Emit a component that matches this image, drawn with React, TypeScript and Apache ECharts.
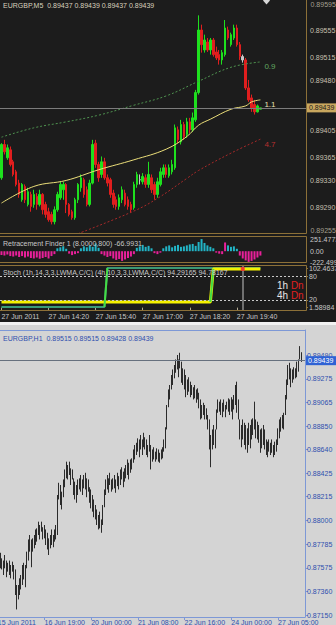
import React, { useEffect, useRef } from "react";
import * as echarts from "echarts";

// ---------------- M5 chart (top, dark) ----------------
const m5TickLabels = ["27 Jun 2011", "27 Jun 14:20", "27 Jun 15:40", "27 Jun 17:00", "27 Jun 18:20", "27 Jun 19:40"];
const m5Open = [0.89334,0.89384,0.89364,0.89376,0.89358,0.89343,0.89326,0.89301,0.89321,0.89294,
  0.89309,0.89294,0.89306,0.89294,0.89309,0.89294,0.89283,0.89279,0.89268,0.89286,
  0.89304,0.89316,0.89324,0.89294,0.89283,0.89274,0.89301,0.89319,0.89331,0.89316,
  0.89294,0.89326,0.89386,0.89354,0.89339,0.89358,0.89334,0.89331,0.89311,0.89301,
  0.89291,0.89301,0.89311,0.89301,0.89294,0.89289,0.89324,0.89331,0.89328,0.89334,
  0.89324,0.89334,0.89324,0.89309,0.89324,0.89339,0.89349,0.89337,0.89343,0.89349,
  0.89406,0.89388,0.89414,0.89399,0.89418,0.89406,0.89421,0.89462,0.89556,0.89526,
  0.89538,0.89526,0.89541,0.89523,0.89519,0.89511,0.89519,0.89556,0.89534,0.89544,
  0.89559,0.89534,0.89516,0.89511,0.89469,0.89454,0.89444,0.89433,0.89437];
const m5Close = [0.89384,0.89373,0.89379,0.89354,0.89339,0.89324,0.89309,0.89324,0.89301,0.89313,
  0.89291,0.89309,0.89294,0.89309,0.89286,0.89279,0.89271,0.89268,0.89286,0.89309,
  0.89324,0.89324,0.89294,0.89279,0.89274,0.89301,0.89324,0.89334,0.89309,0.89294,
  0.89326,0.89384,0.89354,0.89334,0.89358,0.89334,0.89326,0.89309,0.89294,0.89291,
  0.89304,0.89316,0.89294,0.89291,0.89286,0.89324,0.89339,0.89331,0.89336,0.89324,
  0.89339,0.89316,0.89309,0.89328,0.89343,0.89349,0.89339,0.89349,0.89354,0.89409,
  0.89391,0.89414,0.89396,0.89418,0.89406,0.89424,0.89462,0.89556,0.89534,0.89541,
  0.89526,0.89541,0.89519,0.89514,0.89511,0.89522,0.89559,0.89544,0.89549,0.89559,
  0.89534,0.89516,0.89511,0.89469,0.89451,0.89439,0.89433,0.89442,0.89439];
const m5Low = [0.89331,0.89369,0.89361,0.89351,0.89336,0.89321,0.89304,0.89298,0.89296,0.89291,
  0.89283,0.89289,0.89286,0.89291,0.89279,0.89274,0.89268,0.89264,0.89264,0.89283,
  0.89301,0.89301,0.89281,0.89276,0.89271,0.89271,0.89296,0.89313,0.89304,0.89291,
  0.89291,0.89324,0.89349,0.89328,0.89334,0.89331,0.89321,0.89304,0.89289,0.89286,
  0.89286,0.89296,0.89291,0.89286,0.89281,0.89286,0.89319,0.89324,0.89324,0.89319,
  0.89319,0.89311,0.89301,0.89304,0.89321,0.89334,0.89334,0.89334,0.89339,0.89346,
  0.89386,0.89384,0.89391,0.89394,0.89401,0.89403,0.89418,0.89459,0.89522,0.89522,
  0.89523,0.89519,0.89516,0.89511,0.89504,0.89504,0.89516,0.89541,0.89531,0.89541,
  0.89531,0.89511,0.89507,0.89466,0.89448,0.89433,0.89429,0.89432,0.89437];
const m5High = [0.89386,0.89391,0.89384,0.89381,0.89361,0.89346,0.89331,0.89326,0.89324,0.89319,
  0.89313,0.89316,0.89311,0.89316,0.89311,0.89298,0.89289,0.89283,0.89291,0.89313,
  0.89328,0.89328,0.89326,0.89296,0.89286,0.89304,0.89326,0.89339,0.89334,0.89321,
  0.89331,0.89391,0.89391,0.89358,0.89366,0.89364,0.89339,0.89334,0.89316,0.89306,
  0.89309,0.89321,0.89316,0.89306,0.89298,0.89328,0.89343,0.89339,0.89341,0.89339,
  0.89358,0.89339,0.89328,0.89334,0.89349,0.89354,0.89354,0.89354,0.89361,0.89414,
  0.89411,0.89421,0.89418,0.89424,0.89424,0.89432,0.89466,0.89578,0.89564,0.89549,
  0.89544,0.89544,0.89544,0.89531,0.89526,0.89526,0.89571,0.89561,0.89552,0.89564,
  0.89564,0.89538,0.89519,0.89514,0.89481,0.89459,0.89451,0.89444,0.89439];
const m5GrayCandles = [47, 82];
const maYellow = [[0,0.89296],[11,0.89321],[22,0.8933],[33,0.89346],[45,0.89361],[56,0.89377],[63,0.89396],[67,0.89413],[71,0.89422],[78,0.89437],[83,0.89442],[85,0.89448],[88,0.89451]];
const maGreen = [[0,0.89395],[11,0.89409],[22,0.89418],[33,0.89428],[45,0.89443],[56,0.89457],[67,0.89479],[78,0.895],[88,0.89508]];
const maRed = [[26,0.8925],[45,0.89284],[53,0.89303],[63,0.89333],[67,0.89345],[78,0.89371],[88,0.89392]];
const maNames = ["1.1", "0.9", "4.7"];
const m5Last = 0.89439;
const m5AxisLabels = [0.89595, 0.89555, 0.89515, 0.8948, 0.89405, 0.89365, 0.8933, 0.8929, 0.89255];
const m5EdgeLabels = [0.89595, 0.89255];

const retrValues = [-80,-90,-70,-100,-110,-90,-120,-100,-130,-110,-140,-150,-130,-155,-140,-120,-150,-100,-60,
  60,80,100,50,
  -50,-80,-60,-40,
  60,100,80,120,90,160,70,
  -60,-90,-120,-100,-150,-180,-160,-200,-170,-140,-110,-60,
  70,100,130,90,110,60,
  -40,-60,-30,
  60,100,120,80,110,130,90,100,120,140,150,110,190,250,170,120,90,60,
  -30,-50,-60,
  180,
  120,90,100,50,
  -90,-150,-190,-220,-200,-170,-130,-90];
const retrFallingUp = [76];
const retrMin = -222.499;
const retrMax = 251.4773;

const stoch1h = [1.6,1.6,1.6,1.6,1.6,1.6,1.6,1.6,1.6,1.6,1.6,1.6,1.6,1.6,1.6,1.6,1.6,1.6,
  1.6,1.6,1.6,1.6,1.6,1.6,1.6,1.6,1.6,1.6,1.6,1.6,1.6,1.6,1.6,1.6,1.6,1.6,
  102.4,102.4,102.4,102.4,102.4,102.4,102.4,102.4,102.4,102.4,102.4,102.4,102.4,102.4,
  102.4,102.4,102.4,102.4,102.4,102.4,102.4,102.4,102.4,102.4,102.4,102.4,102.4,102.4,
  102.4,102.4,102.4,102.4,102.4,102.4,102.4,102.4,102.4,102.4,102.4,102.4,102.4,102.4,
  102.4,102.4,102.4,102.4,102.4,102.4,102.4,102.4,102.4,102.4,102.4];
const stoch4h = [14.5,14.5,14.5,14.5,14.5,14.5,14.5,14.5,14.5,14.5,14.5,14.5,14.5,14.5,14.5,14.5,14.5,14.5,
  14.5,14.5,14.5,14.5,14.5,14.5,14.5,14.5,14.5,14.5,14.5,14.5,14.5,14.5,14.5,14.5,14.5,14.5,
  14.5,14.5,14.5,14.5,14.5,14.5,14.5,14.5,14.5,14.5,14.5,14.5,14.5,14.5,14.5,14.5,14.5,14.5,
  14.5,14.5,14.5,14.5,14.5,14.5,14.5,14.5,14.5,14.5,14.5,14.5,14.5,14.5,14.5,14.5,14.5,14.5,
  100,100,100,100,100,100,100,100,100,100,100,100,100,100,100,100,100];
const stochAxisLabels = [102.4637, 80, 20, 1.58984];
const stochLevels = [80, 20];
const stochCursor = 82;

// ---------------- H1 chart (bottom, light) ----------------
const h1TickLabels = ["15 Jun 2011", "16 Jun 19:00", "20 Jun 00:00", "21 Jun 08:00", "22 Jun 16:00", "24 Jun 00:00", "27 Jun 05:00"];
const h1High = [0.8771,0.8766,0.8764,0.8769,0.8764,0.8762,0.8764,0.876,0.8763,0.876,
  0.8756,0.8742,0.8742,0.8748,0.8751,0.876,0.8762,0.876,0.8772,0.8783,
  0.8787,0.8783,0.8784,0.8787,0.8792,0.8793,0.8799,0.8796,0.8799,0.8794,
  0.8796,0.8792,0.8789,0.8784,0.8787,0.8792,0.8787,0.8792,0.8796,0.8823,
  0.8834,0.8832,0.8826,0.8837,0.8846,0.8853,0.885,0.8853,0.8847,0.8846,
  0.8838,0.8835,0.8832,0.8837,0.8838,0.8841,0.8837,0.8841,0.8843,0.8838,
  0.8837,0.883,0.8828,0.8823,0.8819,0.8814,0.881,0.8805,0.8808,0.8801,
  0.8814,0.8828,0.8837,0.8841,0.8838,0.8843,0.8837,0.8838,0.8841,0.8837,
  0.8843,0.884,0.8846,0.8848,0.8844,0.8847,0.885,0.8855,0.8852,0.8855,
  0.8856,0.8864,0.8868,0.887,0.8874,0.8873,0.8877,0.8873,0.8879,0.8875,
  0.8873,0.8868,0.8877,0.8868,0.8864,0.8866,0.8862,0.8865,0.8864,0.8861,
  0.8864,0.8866,0.8873,0.8884,0.8904,0.8918,0.8922,0.8931,0.8936,0.894,
  0.8945,0.8949,0.8945,0.8951,0.8943,0.8937,0.8936,0.8931,0.8927,0.8929,
  0.8925,0.8922,0.892,0.8922,0.8918,0.8919,0.8915,0.8909,0.8904,0.8906,
  0.8904,0.8901,0.8895,0.8891,0.8877,0.8882,0.8886,0.8882,0.89,0.8909,
  0.8907,0.8909,0.8906,0.8909,0.8904,0.8907,0.891,0.8909,0.8911,0.8909,
  0.8913,0.8922,0.8925,0.8909,0.8891,0.8886,0.8891,0.8888,0.8886,0.8883,
  0.8888,0.8886,0.8891,0.8892,0.8907,0.8891,0.8889,0.8886,0.8882,0.8883,
  0.8886,0.8882,0.8873,0.8871,0.8873,0.887,0.8873,0.8868,0.8871,0.8873,
  0.8883,0.8891,0.8893,0.8895,0.8897,0.8913,0.8927,0.894,0.8942,0.8937,
  0.8936,0.8938,0.8937,0.8943,0.8945,0.8957,0.89515];
const h1Low = [0.8757,0.8756,0.8751,0.8757,0.8749,0.8754,0.8751,0.8748,0.8754,0.8747,
  0.8733,0.872,0.8729,0.8733,0.8738,0.8742,0.8747,0.874,0.8757,0.8764,
  0.8772,0.8758,0.8772,0.8775,0.8778,0.8781,0.8787,0.8783,0.879,0.8783,
  0.8784,0.8778,0.8774,0.8769,0.8775,0.8778,0.8776,0.8781,0.8783,0.8787,
  0.8819,0.8814,0.881,0.8821,0.883,0.8838,0.8837,0.8841,0.8832,0.8837,
  0.8823,0.8819,0.8816,0.8823,0.8828,0.8826,0.8823,0.8829,0.8828,0.8821,
  0.8826,0.8816,0.8811,0.8808,0.8803,0.8801,0.8796,0.8792,0.8793,0.8789,
  0.8796,0.8812,0.8823,0.8828,0.8825,0.8832,0.8826,0.8828,0.8829,0.8825,
  0.8831,0.8828,0.8832,0.8837,0.883,0.8835,0.8838,0.8841,0.8837,0.8843,
  0.8846,0.8852,0.8855,0.8859,0.8862,0.8857,0.8864,0.8859,0.8866,0.8864,
  0.8859,0.8857,0.8862,0.8846,0.8853,0.8855,0.8853,0.8855,0.8853,0.8852,
  0.8855,0.8856,0.8862,0.8865,0.8882,0.8902,0.8909,0.8918,0.8922,0.8928,
  0.8933,0.8936,0.8929,0.8937,0.8924,0.8922,0.8918,0.8911,0.8913,0.8916,
  0.8911,0.8913,0.8909,0.891,0.8906,0.8909,0.8901,0.8891,0.8892,0.8895,
  0.8891,0.8891,0.8882,0.8864,0.8848,0.8864,0.8868,0.8865,0.8882,0.8897,
  0.8898,0.8895,0.8893,0.8898,0.8893,0.89,0.8898,0.8895,0.8898,0.8891,
  0.89,0.8904,0.8897,0.8891,0.8873,0.8866,0.8873,0.8868,0.8864,0.8861,
  0.8868,0.8865,0.8873,0.8877,0.8882,0.8874,0.8873,0.887,0.8861,0.8865,
  0.8868,0.8864,0.8859,0.8857,0.8862,0.8859,0.8861,0.8857,0.8859,0.8862,
  0.8868,0.8874,0.888,0.8883,0.8882,0.8895,0.8909,0.8922,0.8927,0.892,
  0.8924,0.8927,0.8928,0.8929,0.8934,0.8945,0.89428];
const h1Last = 0.89439;
const h1AxisLabels = [0.8949, 0.89275, 0.89065, 0.8885, 0.8864, 0.88425, 0.88215, 0.88, 0.87785, 0.87575, 0.8736, 0.8715];

// ---------------- styling ----------------
const FONT = "Liberation Sans";
const GOLD = "#8c7038";
const DARK = "#1c1c1c";
const BLUE = "#7d98d6";
const BLUE_TEXT = "#2f4fae";
const GREEN = "#1ee01e";
const RED = "#e01e1e";
const CYAN = "#22b4c6";
const MAGENTA = "#e8209a";
const PRICE_TEXT = "#c8c0b0";

const M5_SLOTS = 104;
const H1_LEAD = 2;
const H1_SLOTS = 211;

const m5Cats = Array.from({ length: M5_SLOTS }, (_, i) => (i % 16 === 0 && m5TickLabels[i / 16]) || "");
const h1Cats = Array.from({ length: H1_SLOTS }, (_, i) => (i % 32 === 0 && h1TickLabels[i / 32]) || "");

const m5Data = m5Open.map((o, i) => {
  const v = [o, m5Close[i], m5Low[i], m5High[i]];
  if (m5GrayCandles.includes(i)) {
    return { value: v, itemStyle: { color: "#c8c8c8", color0: "#c8c8c8", borderColor: "#c8c8c8", borderColor0: "#c8c8c8" } };
  }
  return v;
});
const h1Data: any[] = [];
for (let i = 0; i < H1_LEAD; i++) h1Data.push("-");
h1High.forEach((h, i) => h1Data.push([h1Low[i], h, h1Low[i], h]));

const labelFont = { fontFamily: FONT, fontSize: 7, lineHeight: 7 };
const pickLabel = (list: number[], digits: number) => (v: number) => {
  const hit = list.find((x) => Math.abs(x - v) < 1e-7);
  return hit === undefined ? "" : hit.toFixed(digits);
};

const priceLine = (value: number, xi: number, yi: number, lineColor: string, bg: string, fg: string) => ({
  type: "line", xAxisIndex: xi, yAxisIndex: yi, data: [], z: 8,
  markLine: {
    silent: true, symbol: ["none", "none"], animation: false, precision: 5,
    lineStyle: { color: lineColor, width: 1, type: "solid" },
    label: { show: true, position: "end", distance: 1, formatter: value.toFixed(5), fontFamily: FONT, fontSize: 7, color: fg, backgroundColor: bg, padding: [1, 3, 1, 2] },
    data: [{ yAxis: value }],
  },
});

// main price panel: 0.896 sits at y=0.7, 0.8925 at y=233.7; the axis is extended two label steps each side
const M5_PX = 233 / (0.896 - 0.8925);
const M5_MIN = 0.8924;
const M5_MAX = 0.8961;
const M5_TOP = 0.7 - (M5_MAX - 0.896) * M5_PX;

const option: any = {
  animation: false,
  backgroundColor: "transparent",
  textStyle: { fontFamily: FONT },
  grid: [
    { left: 0, top: M5_TOP, width: 306, height: (M5_MAX - M5_MIN) * M5_PX, outerBoundsMode: "none" },
    { left: 0, top: 239, width: 306, height: 23, outerBoundsMode: "none" },
    { left: 0, top: 266, width: 306, height: 44, outerBoundsMode: "none" },
    { left: -2.9, top: 330, width: 307.9, height: 287, outerBoundsMode: "none" },
  ],
  xAxis: [
    { type: "category", gridIndex: 0, data: m5Cats, show: false },
    { type: "category", gridIndex: 1, data: m5Cats, show: false },
    {
      type: "category", gridIndex: 2, data: m5Cats,
      axisLine: { show: false },
      axisTick: { show: true, alignWithLabel: true, length: 3, lineStyle: { color: "#b0a890" }, interval: (i: number, v: string) => v !== "" },
      axisLabel: { ...labelFont, color: "#c8c8c8", align: "left", margin: 3, interval: (i: number, v: string) => v !== "" },
      splitLine: { show: false },
    },
    {
      type: "category", gridIndex: 3, data: h1Cats,
      axisLine: { show: true, lineStyle: { color: BLUE } },
      axisTick: { show: true, alignWithLabel: true, length: 3, lineStyle: { color: BLUE }, interval: (i: number, v: string) => v !== "" },
      axisLabel: { ...labelFont, color: BLUE_TEXT, align: "left", margin: 2, interval: (i: number, v: string) => v !== "" },
      splitLine: { show: false },
    },
  ],
  yAxis: [
    {
      type: "value", gridIndex: 0, position: "right", min: M5_MIN, max: M5_MAX, interval: 0.00005,
      axisLine: { show: false }, splitLine: { show: false }, axisTick: { show: false },
      axisLabel: { ...labelFont, color: PRICE_TEXT, margin: 4, hideOverlap: false, formatter: pickLabel(m5AxisLabels.filter((v) => !m5EdgeLabels.includes(v)), 5) },
    },
    {
      type: "value", gridIndex: 1, position: "right", min: retrMin, max: retrMax,
      axisLine: { show: false }, splitLine: { show: false }, axisTick: { show: false },
      axisLabel: {
        ...labelFont, color: "#c8c8c8", margin: 4, hideOverlap: false, showMinLabel: true, showMaxLabel: true,
        formatter: (v: number) => (Math.abs(v) < 1e-9 ? "0.00" : Math.abs(v - retrMax) < 1e-6 ? String(retrMax) : Math.abs(v - retrMin) < 1e-6 ? String(retrMin) : ""),
      },
    },
    {
      type: "value", gridIndex: 2, position: "right", min: -6.17, max: 107.64,
      axisLine: { show: false }, splitLine: { show: false },
      axisTick: { show: true, length: 2, lineStyle: { color: GOLD }, customValues: stochAxisLabels },
      axisLabel: { ...labelFont, color: "#c8c8c8", margin: 3, customValues: stochAxisLabels, formatter: (v: number) => String(v) },
    },
    {
      type: "value", gridIndex: 3, position: "right", min: 0.87132, max: 0.89715,
      axisLine: { show: true, lineStyle: { color: BLUE } }, splitLine: { show: false },
      axisTick: { show: true, length: 3, lineStyle: { color: BLUE }, customValues: h1AxisLabels },
      axisLabel: { ...labelFont, color: BLUE_TEXT, margin: 2, customValues: h1AxisLabels, formatter: (v: number) => v.toFixed(5) },
    },
  ],
  series: [
    {
      type: "candlestick", xAxisIndex: 0, yAxisIndex: 0, data: m5Data, barWidth: 2,
      itemStyle: { color: GREEN, color0: RED, borderColor: GREEN, borderColor0: RED, borderWidth: 1 },
    },
    priceLine(m5Last, 0, 0, "#7c7c7c", "#c9a75e", "#1a1a1a"),
    // edge price labels of the M5 scale, hung on the last slot of the price axis
    {
      type: "scatter", xAxisIndex: 0, yAxisIndex: 0, silent: true, z: 9,
      data: m5EdgeLabels.map((v) => [M5_SLOTS - 1, v]),
      symbolSize: 1, itemStyle: { color: "rgba(0,0,0,0)" },
      label: { show: true, position: "right", distance: 5.5, formatter: (p: any) => p.value[1].toFixed(5), fontFamily: FONT, fontSize: 7, color: PRICE_TEXT },
      labelLayout: { hideOverlap: false },
    },
    ...[maYellow, maGreen, maRed].map((d, k) => ({
      type: "line", xAxisIndex: 0, yAxisIndex: 0, data: d, smooth: 0.4, showSymbol: false, symbol: "none",
      lineStyle: [
        { color: "#ecdf7a", width: 1, type: "solid" },
        { color: "#4f9350", width: 1, type: [2, 2] },
        { color: "#a82a2a", width: 1, type: [2, 2] },
      ][k],
      endLabel: { show: true, formatter: maNames[k], fontFamily: FONT, fontSize: 8, color: ["#e8e2b0", "#62a862", "#b83030"][k], distance: 4, offset: [0, 5] },
      z: 3,
    })),
    {
      type: "bar", xAxisIndex: 1, yAxisIndex: 1, data: retrValues, barWidth: 2,
      itemStyle: { color: (p: any) => (p.value < 0 || retrFallingUp.includes(p.dataIndex) ? MAGENTA : CYAN) },
    },
    {
      type: "line", xAxisIndex: 2, yAxisIndex: 2, data: stoch1h, showSymbol: false, symbol: "none",
      lineStyle: { color: "#3a9a78", width: 2 }, z: 3,
    },
    {
      type: "line", xAxisIndex: 2, yAxisIndex: 2, data: stoch4h, showSymbol: false, symbol: "none",
      lineStyle: { color: "#f4f000", width: 3 }, z: 4,
    },
    {
      type: "line", xAxisIndex: 2, yAxisIndex: 2, showSymbol: false, symbol: "none",
      data: [[35, stoch1h[35]], [36, stoch1h[36]]], lineStyle: { color: "#44dd44", width: 2 }, z: 5,
    },
    {
      type: "line", xAxisIndex: 2, yAxisIndex: 2, showSymbol: false, symbol: "none",
      data: [[71, stoch4h[71]], [72, stoch4h[72]]], lineStyle: { color: "#44dd44", width: 2 }, z: 5,
    },
    {
      type: "line", xAxisIndex: 2, yAxisIndex: 2, data: [], z: 6,
      markLine: {
        silent: true, symbol: ["none", "none"], animation: false, precision: 5, label: { show: false },
        data: [
          ...stochLevels.map((l) => ({ yAxis: l, lineStyle: { color: "#c8c8c8", width: 1, type: [2, 2] } })),
          { xAxis: stochCursor, lineStyle: { color: "#8c8c8c", width: 1.5, type: "solid" } },
        ],
      },
    },
    {
      type: "scatter", xAxisIndex: 2, yAxisIndex: 2, data: [[stochCursor, stoch4h[stochCursor]]],
      symbol: "rect", symbolSize: 4, itemStyle: { color: "#ff2424" }, z: 7,
    },
    {
      type: "candlestick", xAxisIndex: 3, yAxisIndex: 3, data: h1Data, barWidth: 1.3,
      itemStyle: { color: "#000", color0: "#000", borderColor: "#000", borderColor0: "#000", borderWidth: 0.8 },
    },
    priceLine(h1Last, 3, 3, "#66707e", "#2f62d4", "#ffffff"),
  ],
  graphic: [
    { type: "rect", silent: true, z: 20, shape: { x: -5, y: -5, width: 311.5, height: 238.5 }, style: { fill: "none", stroke: GOLD, lineWidth: 1 } },
    { type: "rect", silent: true, z: 20, shape: { x: -5, y: 234, width: 311, height: 2 }, style: { fill: DARK, stroke: "none" } },
    { type: "rect", silent: true, z: 20, shape: { x: -5, y: 236.5, width: 311.5, height: 26 }, style: { fill: "none", stroke: GOLD, lineWidth: 1 } },
    { type: "rect", silent: true, z: 20, shape: { x: -5, y: 265.5, width: 311.5, height: 45 }, style: { fill: "none", stroke: GOLD, lineWidth: 1 } },
    { type: "line", silent: true, z: 20, shape: { x1: 0, y1: 330.5, x2: 305.5, y2: 330.5 }, style: { stroke: BLUE, lineWidth: 1 } },
    { type: "polygon", silent: true, z: 20, shape: { points: [[266.5, -3], [270, 0.5], [266.5, 4.5], [263, 0.5]] }, style: { fill: "#d6d6d6" } },
    { type: "text", silent: true, z: 21, x: 3, y: 5, style: { text: "EURGBP,M5  0.89437 0.89439 0.89437 0.89439", fill: "#d8d0bc", font: `7px "${FONT}"`, textVerticalAlign: "middle" } },
    { type: "text", silent: true, z: 21, x: 3, y: 243, style: { text: "Retracement Finder 1 (8.0000,800) -66.9931", fill: "#c8c8c8", font: `7px "${FONT}"`, textVerticalAlign: "middle" } },
    { type: "text", silent: true, z: 21, x: 3, y: 272, style: { text: "Stoch (1h,14,3,3,LWMA,C/C) (4h,10,3,3,LWMA,C/C) 94.29165 94.78167", fill: "#c8c8c8", font: `7px "${FONT}"`, textVerticalAlign: "middle" } },
    {
      type: "text", silent: true, z: 21, x: 277, y: 285,
      style: { text: "{w|1h} {r|Dn}", font: `10px "${FONT}"`, textVerticalAlign: "middle", rich: { w: { fill: "#e6e6e6", font: `10px "${FONT}"` }, r: { fill: "#e02020", font: `10px "${FONT}"` } } },
    },
    {
      type: "text", silent: true, z: 21, x: 277, y: 295,
      style: { text: "{w|4h} {r|Dn}", font: `10px "${FONT}"`, textVerticalAlign: "middle", rich: { w: { fill: "#e6e6e6", font: `10px "${FONT}"` }, r: { fill: "#e02020", font: `10px "${FONT}"` } } },
    },
    { type: "text", silent: true, z: 21, x: 3, y: 338, style: { text: "EURGBP,H1  0.89515 0.89515 0.89428 0.89439", fill: BLUE_TEXT, font: `7px "${FONT}"`, textVerticalAlign: "middle" } },
  ],
};

const BG = `linear-gradient(to bottom, ${DARK} 0px, ${DARK} 322px, #f2f2f2 322px, #f2f2f2 325px, #d4d4d4 325px, #d4d4d4 625px)`;

export default function App() {
  const ref = useRef<HTMLDivElement>(null);
  useEffect(() => {
    const chart = echarts.init(ref.current!, undefined, { renderer: "svg" });
    chart.setOption(option);
    return () => chart.dispose();
  }, []);
  return (
    <div style={{ position: "fixed", left: 0, top: 0, width: 336, height: 625, background: BG }}>
      <div ref={ref} style={{ width: 336, height: 625 }} />
    </div>
  );
}
